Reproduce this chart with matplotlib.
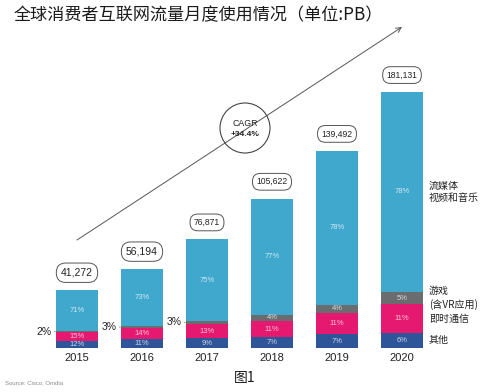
import matplotlib
matplotlib.use("Agg")
import matplotlib.pyplot as plt
from matplotlib.patches import Circle
from matplotlib.transforms import IdentityTransform
import numpy as np

plt.rcParams['font.family'] = ['Liberation Sans', 'Noto Sans CJK SC', 'DejaVu Sans']
CJK = ['Noto Sans CJK SC', 'DejaVu Sans']

years = ['2015', '2016', '2017', '2018', '2019', '2020']
totals = [41272, 56194, 76871, 105622, 139492, 181131]
# shares in %, bottom to top
other = [12, 11, 9, 7, 7, 6]
messaging = [15, 14, 13, 11, 11, 11]
gaming = [2, 3, 3, 4, 4, 5]
streaming = [71, 73, 75, 77, 78, 78]

series = [other, messaging, gaming, streaming]
colors = ['#2d5597', '#e5196f', '#6b6c70', '#40a7cd']
text_colors = ['#c9d4ea', '#f7c2d8', '#d8d8d8', '#cfe9f3']
legend_labels = ['其他', '即时通信', '游戏\n(含VR应用)', '流媒体\n视频和音乐']

W, H = 490, 392
fig = plt.figure(figsize=(W / 100, H / 100), dpi=100)
ax = fig.add_axes([0, 0, 1, 1])

# layout in pixels
x0, step, base_px, top_px = 77, 65, 348, 92
scale = (base_px - top_px) / max(totals)
ax.set_xlim(-x0 / step, (W - x0) / step)
ax.set_ylim(-(H - base_px) / scale, base_px / scale)
ax.axis('off')

def fpx(x, y):
    return x / W, 1 - y / H

x = np.arange(len(years))
tot = np.array(totals, dtype=float)
# normalise shares so segments fill the total
shares = np.array(series, dtype=float)
shares = shares / shares.sum(axis=0)
bottom = np.zeros(len(years))
bw = 0.66
last = len(years) - 1
for k, (sh, c) in enumerate(zip(shares, colors)):
    h = sh * tot
    ax.bar(x, h, bottom=bottom, width=bw, color=c, edgecolor='none')
    for i in range(len(years)):
        ymid = bottom[i] + h[i] / 2
        pct = series[k][i]
        if k == 2 and pct < 4:
            ax.annotate(f'{pct}%', xy=(x[i] - bw / 2, ymid), xytext=(-3, 0),
                        textcoords='offset points', ha='right', va='center',
                        fontsize=7.5, color='#222222',
                        arrowprops=dict(arrowstyle='-', color='#999999', lw=0.6,
                                        shrinkA=0, shrinkB=0))
        else:
            ax.text(x[i], ymid, f'{pct}%', ha='center', va='center',
                    fontsize=5.5, color=text_colors[k])
    # category labels to the right of the last bar
    ax.annotate(legend_labels[k], xy=(x[last] + bw / 2, bottom[last] + h[last] / 2),
                xytext=(4, 0), textcoords='offset points', ha='left',
                va='center', fontsize=7.2, color='#222222',
                family=CJK, linespacing=1.35)
    bottom += h

# total value boxes
for i, t in enumerate(totals):
    ax.annotate(f'{t:,}', xy=(x[i], t), xytext=(0, 12.2), textcoords='offset points',
                ha='center', va='center', fontsize=7.5 if i < 2 else 6.2,
                color='#222222',
                bbox=dict(boxstyle='round,pad=0.45,rounding_size=0.9',
                          fc='white', ec='#555555', lw=0.7))

# year labels
for i, yr in enumerate(years):
    ax.annotate(yr, xy=(x[i], 0), xytext=(0, -7), textcoords='offset points',
                ha='center', va='center', fontsize=8, color='#222222')

# CAGR arrow and circle
ax.annotate('', xy=fpx(402, 27), xytext=fpx(77, 240), xycoords='figure fraction',
            textcoords='figure fraction',
            arrowprops=dict(arrowstyle='->', color='#555555', lw=0.7,
                            shrinkA=0, shrinkB=0, mutation_scale=9))
cx, cy = fpx(245, 128)
circ = Circle((245, H - 128), 25, fill=False, ec='#444444', lw=0.8,
              transform=IdentityTransform())
fig.patches.append(circ)
fig.text(cx, cy + 0.012, 'CAGR', ha='center', va='center', fontsize=6.3, color='#222222')
fig.text(cx, cy - 0.017, '+34.4%', ha='center', va='center', fontsize=6,
         color='#222222', fontweight='bold')

# title and captions
tx, ty = fpx(14, 15)
fig.text(tx, ty, '全球消费者互联网流量月度使用情况（单位:PB）', ha='left', va='center',
         fontsize=12.3, color='#1a1a1a', family=CJK, fontweight='medium')
fx, fy = fpx(245, 378)
fig.text(fx, fy, '图1', ha='center', va='center', fontsize=10, color='#1a1a1a',
         family=CJK)
sx, sy = fpx(5, 383)
fig.text(sx, sy, 'Source: Cisco, Omdia', ha='left', va='center', fontsize=4.3,
         color='#8a8a8a')

fig.savefig('out.png', dpi=100)
